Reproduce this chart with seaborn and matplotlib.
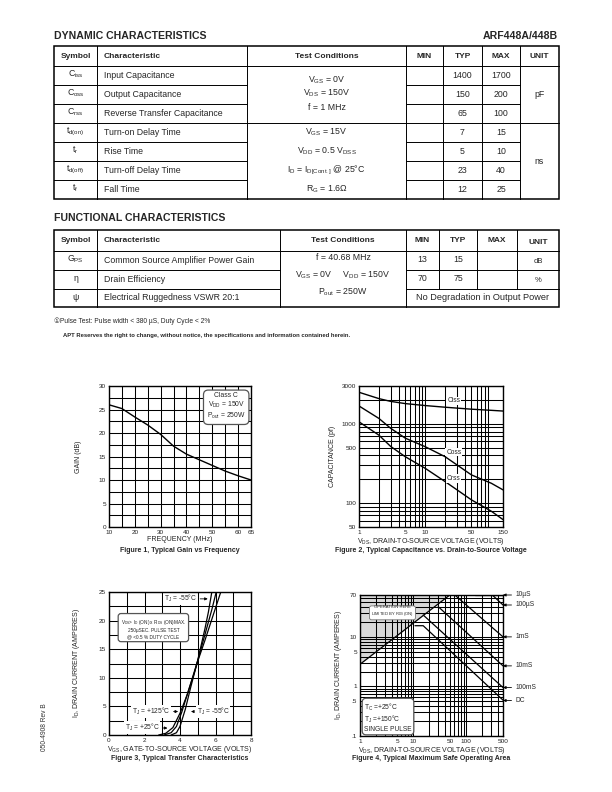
import matplotlib
matplotlib.use("Agg")
import matplotlib.pyplot as plt
import numpy as np
import seaborn as sns

# TABLE DATA
dyn_symbols = [r'C$_{\rm iss}$', r'C$_{\rm oss}$', r'C$_{\rm rss}$', r't$_{\rm d(on)}$',
               r't$_{\rm r}$', r't$_{\rm d(off)}$', r't$_{\rm f}$']
dyn_names = ['Input Capacitance', 'Output Capacitance', 'Reverse Transfer Capacitance',
             'Turn-on Delay Time', 'Rise Time', 'Turn-off Delay Time', 'Fall Time']
dyn_typ = ['1400', '150', '65', '7', '5', '23', '12']
dyn_max = ['1700', '200', '100', '15', '10', '40', '25']
dyn_cond_cap = [r'V$_{\rm GS}$ = 0V', r'V$_{\rm DS}$ = 150V', 'f = 1 MHz']
dyn_cond_sw = [r'V$_{\rm GS}$ = 15V', r'V$_{\rm DD}$ = 0.5 V$_{\rm DSS}$',
               r'I$_{\rm D}$ = I$_{\rm D[Cont.]}$ @ 25°C', r'R$_{\rm G}$ = 1.6Ω']
dyn_units = ['pF', 'ns']

fun_symbols = [r'G$_{\rm PS}$', 'η', 'ψ']
fun_names = ['Common Source Amplifier Power Gain', 'Drain Efficiency', 'Electrical Ruggedness VSWR 20:1']
fun_min = ['13', '70']
fun_typ = ['15', '75']
fun_units = ['dB', '%']
fun_cond = ['f = 40.68 MHz', r'V$_{\rm GS}$ = 0V     V$_{\rm DD}$ = 150V', r'P$_{\rm out}$ = 250W']
fun_last = 'No Degradation in Output Power'
headers = ['Symbol', 'Characteristic', 'Test Conditions', 'MIN', 'TYP', 'MAX', 'UNIT']

# FIGURE 1 - gain vs frequency
freq = [10, 15, 20, 25, 30, 35, 40, 45, 50, 55, 60, 65]
gain = [26.0, 25.2, 23.4, 21.7, 19.7, 17.2, 15.5, 14.3, 13.1, 11.9, 10.9, 10.0]

# FIGURE 2 - capacitance vs VDS
cap_v = [1, 2, 3, 5, 10, 20, 50, 100, 150]
ciss = [2500, 2080, 1920, 1800, 1700, 1620, 1530, 1480, 1450]
coss = [1680, 1170, 880, 660, 515, 385, 227, 178, 147]
crss = [1060, 720, 520, 385, 275, 187, 110, 79, 62]

# FIGURE 3 - transfer characteristics
vgs_125 = [2.8, 3.2, 3.6, 4.0, 4.4, 4.8, 5.0, 5.4, 5.8, 6.35]
id_125 = [0, 0.3, 1.3, 3.8, 7.0, 10.8, 12.9, 16.5, 20.3, 25.5]
vgs_25 = [3.1, 3.5, 3.8, 4.1, 4.5, 5.0, 5.4, 5.8, 6.08]
id_25 = [0, 0.4, 1.5, 4.0, 8.0, 13.0, 17.5, 22.0, 25.5]
vgs_m55 = [3.5, 3.8, 4.0, 4.3, 4.6, 5.0, 5.4, 5.6, 5.82]
id_m55 = [0, 0.4, 1.5, 4.5, 8.3, 13.1, 18.5, 21.5, 25.5]

# FIGURE 4 - safe operating area
rds_v = [1, 49.5]
rds_i = [2.8, 70]
soa_names = ['10µS', '100µS', '1mS', '10mS', '100mS', 'DC']
soa_v = [[150, 500], [314, 500], [61.6, 500], [29.9, 500], [15.6, 500], [10.9, 15.6, 500]]
soa_i = [[70, 70], [70, 44], [70, 10], [40.8, 2.6], [27.6, 0.95], [16.8, 16.8, 0.53]]
soa_end = [70, 44, 10, 2.6, 0.95, 0.52]

W, H = 612, 792
sns.set_style("white")
plt.rcParams['font.family'] = ['Liberation Sans', 'DejaVu Sans']
plt.rcParams['mathtext.fontset'] = 'custom'
plt.rcParams['mathtext.rm'] = 'Liberation Sans'
plt.rcParams['mathtext.it'] = 'Liberation Sans'
plt.rcParams['mathtext.bf'] = 'Liberation Sans:bold'

fig = plt.figure(figsize=(6.12, 7.92), dpi=100)
page = fig.add_axes([0, 0, 1, 1])
page.set_xlim(0, W)
page.set_ylim(H, 0)
page.axis('off')


def hline(y, x0, x1, lw=0.7):
    page.plot([x0, x1], [y, y], color='black', lw=lw, solid_capstyle='projecting')


def vline(x, y0, y1, lw=0.7):
    page.plot([x, x], [y0, y1], color='black', lw=lw, solid_capstyle='projecting')


def txt(x, y, s, size=6.3, ha='center', bold=False, **kw):
    page.text(x, y, s, fontsize=size, ha=ha, va='center',
              fontweight='bold' if bold else 'normal', **kw)


# DYNAMIC TABLE
txt(54, 36, 'DYNAMIC CHARACTERISTICS', size=7.6, ha='left', bold=True)
txt(558, 36, 'ARF448A/448B', size=7.6, ha='right', bold=True)
cols = [54, 97, 247, 406, 443, 482, 520, 559]
rows = [46, 66, 85, 104, 123, 142, 161, 180, 199]
for x in cols[1:-1]:
    vline(x, rows[0], rows[-1])
hline(rows[1], cols[0], cols[-1])
hline(rows[4], cols[0], cols[-1])
for y in rows[2:4] + rows[5:8]:
    hline(y, cols[0], cols[2])
    hline(y, cols[3], cols[6])
page.add_patch(plt.Rectangle((cols[0], rows[0]), cols[-1] - cols[0], rows[-1] - rows[0],
                             fill=False, lw=1.1, ec='black'))
hy = (rows[0] + rows[1]) / 2
for i, h in enumerate(headers):
    if i == 1:
        txt(cols[1] + 7, hy, h, ha='left', bold=True, size=6.0)
    else:
        txt((cols[i] + cols[i + 1]) / 2, hy, h, bold=True, size=6.0)
for i in range(len(dyn_names)):
    yc = (rows[i + 1] + rows[i + 2]) / 2
    txt((cols[0] + cols[1]) / 2, yc - 1, dyn_symbols[i])
    txt(cols[1] + 7, yc, dyn_names[i], ha='left')
    txt((cols[4] + cols[5]) / 2, yc, dyn_typ[i])
    txt((cols[5] + cols[6]) / 2, yc, dyn_max[i])
cx = (cols[2] + cols[3]) / 2
for j, s in enumerate(dyn_cond_cap):
    txt(cx, 80 + 13.5 * j, s)
for j, s in enumerate(dyn_cond_sw):
    txt(cx, (rows[4 + j] + rows[5 + j]) / 2, s)
ux = (cols[6] + cols[7]) / 2
txt(ux, (rows[1] + rows[4]) / 2, dyn_units[0])
txt(ux, (rows[4] + rows[8]) / 2, dyn_units[1])

# FUNCTIONAL TABLE
txt(54, 218, 'FUNCTIONAL CHARACTERISTICS', size=7.6, ha='left', bold=True)
cols = [54, 97, 280, 406, 439, 477, 517, 559]
rows = [230, 251, 270, 289, 307]
for x in cols[1:4]:
    vline(x, rows[0], rows[-1])
for x in cols[4:7]:
    vline(x, rows[0], rows[3])
hline(rows[1], cols[0], cols[-1])
for y in rows[2:4]:
    hline(y, cols[0], cols[2])
    hline(y, cols[3], cols[-1])
page.add_patch(plt.Rectangle((cols[0], rows[0]), cols[-1] - cols[0], rows[-1] - rows[0],
                             fill=False, lw=1.1, ec='black'))
hy = (rows[0] + rows[1]) / 2
for i, h in enumerate(headers):
    if i == 1:
        txt(cols[1] + 7, hy, h, ha='left', bold=True, size=6.0)
    else:
        txt((cols[i] + cols[i + 1]) / 2, hy + (1.5 if h == 'UNIT' else 0), h, bold=True, size=6.0)
for i in range(len(fun_names)):
    yc = (rows[i + 1] + rows[i + 2]) / 2
    txt((cols[0] + cols[1]) / 2, yc - 1, fun_symbols[i])
    txt(cols[1] + 7, yc, fun_names[i], ha='left')
for i in range(len(fun_min)):
    yc = (rows[i + 1] + rows[i + 2]) / 2
    txt((cols[3] + cols[4]) / 2, yc - 1, fun_min[i])
    txt((cols[4] + cols[5]) / 2, yc - 1, fun_typ[i])
    txt((cols[6] + cols[7]) / 2, yc + 1, fun_units[i], size=5.5)
txt((cols[3] + cols[7]) / 2, (rows[3] + rows[4]) / 2, fun_last, size=6.6)
cx = (cols[2] + cols[3]) / 2
for j, s in enumerate(fun_cond):
    txt(cx, 258 + 17 * j, s)

txt(54, 321, '①Pulse Test: Pulse width < 380 µS, Duty Cycle < 2%', size=4.8, ha='left')
txt(63, 336, 'APT Reserves the right to change, without notice, the specifications and information contained herein.',
    size=4.2, ha='left', bold=True)
page.text(45, 727, '050-4908 Rev B', rotation=90, fontsize=4.8, ha='center', va='center', color='#333333')


def chart_axes(l, t, r, b):
    ax = fig.add_axes([l / W, 1 - b / H, (r - l) / W, (b - t) / H])
    for s in ax.spines.values():
        s.set_linewidth(1.0)
        s.set_color('black')
        s.set_zorder(5)
    ax.tick_params(which='both', length=0, labelsize=4.6, pad=2.0, colors='#222222')
    return ax


def grid(ax):
    ax.grid(which='both', color='black', lw=0.75)
    ax.set_axisbelow(True)


lab = dict(fontsize=5.0, color='#222222')

# FIGURE 1
ax1 = chart_axes(109, 386, 251, 527)
sns.lineplot(x=freq, y=gain, ax=ax1, color='black', lw=1.0)
ax1.set_xlim(10, 65)
ax1.set_ylim(0, 30)
ax1.set_xticks([10, 20, 30, 40, 50, 60, 65])
ax1.set_xticks(np.arange(10, 66, 5), minor=True)
ax1.set_yticks(np.arange(0, 31, 5))
ax1.set_yticks(np.arange(0, 30.1, 2.5), minor=True)
grid(ax1)
ax1.set_xlabel('FREQUENCY (MHz)', labelpad=0.8, **lab)
ax1.set_ylabel('GAIN (dB)', labelpad=12, **lab)
ax1.text(55.4, 25.6, 'Class C\n' + r'V$_{\rm DD}$ = 150V' + '\n' + r'P$_{\rm out}$ = 250W',
         ha='center', va='center', fontsize=4.9, linespacing=1.1,
         bbox=dict(boxstyle='round,pad=0.5,rounding_size=0.7', fc='white', ec='#555555', lw=0.9))
txt(180, 551, 'Figure 1, Typical Gain vs Frequency', size=5.0, bold=True)

# FIGURE 2
ax2 = chart_axes(359, 386, 503, 527)
for vals in [ciss, coss, crss]:
    sns.lineplot(x=cap_v, y=vals, ax=ax2, color='black', lw=1.0)
ax2.set_xscale('log')
ax2.set_yscale('log')
ax2.set_xlim(1, 150)
ax2.set_ylim(50, 3000)
ax2.set_xticks([1, 5, 10, 50, 150])
ax2.set_xticklabels(['1', '5', '10', '50', '150'])
ax2.set_yticks([50, 100, 500, 1000, 3000])
ax2.set_yticklabels(['50', '100', '500', '1000', '3000'])
grid(ax2)
ax2.set_xlabel(r'V$_{\rm DS}$, DRAIN-TO-SOURCE VOLTAGE (VOLTS)', labelpad=0.8, **lab)
ax2.set_ylabel('CAPACITANCE (pf)', labelpad=4, **lab)
for name, yy in [('Ciss', 1950), ('Coss', 440), ('Crss', 205)]:
    ax2.text(27, yy, name, fontsize=4.8, ha='center', va='center',
             bbox=dict(fc='white', ec='none', pad=0.6))
txt(431, 551, 'Figure 2, Typical Capacitance vs. Drain-to-Source Voltage', size=5.0, bold=True)

# FIGURE 3
ax3 = chart_axes(109, 592, 251, 735)
for vv, ii in [(vgs_125, id_125), (vgs_25, id_25), (vgs_m55, id_m55)]:
    sns.lineplot(x=vv, y=ii, ax=ax3, color='black', lw=0.9)
ax3.set_xlim(0, 8)
ax3.set_ylim(0, 25)
ax3.set_xticks([0, 2, 4, 6, 8])
ax3.set_xticks(np.arange(0, 8.1, 1), minor=True)
ax3.set_yticks(np.arange(0, 26, 5))
ax3.set_yticks(np.arange(0, 25.1, 2.5), minor=True)
grid(ax3)
ax3.set_xlabel(r'V$_{\rm GS}$, GATE-TO-SOURCE VOLTAGE (VOLTS)', labelpad=0.8, **lab)
ax3.set_ylabel(r'I$_{\rm D}$, DRAIN CURRENT (AMPERES)', labelpad=12, **lab)
ax3.text(2.5, 18.6, r'V$_{\rm DS}$> I$_{\rm D}$ (ON) x R$_{\rm DS}$ (ON)MAX.' + '\n250µSEC. PULSE TEST\n@ <0.5 % DUTY CYCLE',
         ha='center', va='center', fontsize=3.4, linespacing=1.3,
         bbox=dict(boxstyle='round,pad=0.5,rounding_size=0.6', fc='white', ec='#555555', lw=0.9))
arw = dict(arrowstyle='-|>', color='black', lw=0.6, mutation_scale=4)
bb = dict(fc='white', ec='none', pad=0.4)
ax3.annotate(r'T$_{\rm J}$ = -55°C', xy=(5.72, 23.8), xytext=(4.95, 23.8), fontsize=4.8,
             ha='right', va='center', arrowprops=arw, bbox=bb)
ax3.annotate(r'T$_{\rm J}$ = +125°C', xy=(4.05, 4.1), xytext=(3.45, 4.1), fontsize=4.8,
             ha='right', va='center', arrowprops=arw, bbox=bb)
ax3.annotate(r'T$_{\rm J}$ = -55°C', xy=(4.62, 4.1), xytext=(4.95, 4.1), fontsize=4.8,
             ha='left', va='center', arrowprops=arw, bbox=bb)
ax3.annotate(r'T$_{\rm J}$ = +25°C', xy=(3.45, 1.2), xytext=(2.85, 1.3), fontsize=4.8,
             ha='right', va='center', arrowprops=arw, bbox=bb)
txt(180, 759, 'Figure 3, Typical Transfer Characteristics', size=5.0, bold=True)

# FIGURE 4
ax4 = chart_axes(360, 595, 503, 736)
ax4.set_xscale('log')
ax4.set_yscale('log')
ax4.fill_between([rds_v[0], rds_v[1]], rds_i, [70, 70], color='#d9d9d9', zorder=0.5, lw=0)
sns.lineplot(x=rds_v, y=rds_i, ax=ax4, color='black', lw=0.9)
for vv, ii in zip(soa_v, soa_i):
    sns.lineplot(x=vv, y=ii, ax=ax4, color='black', lw=0.9)
ax4.set_xlim(1, 500)
ax4.set_ylim(0.1, 70)
ax4.set_xticks([1, 5, 10, 50, 100, 500])
ax4.set_xticklabels(['1', '5', '10', '50', '100', '500'])
ax4.set_yticks([0.1, 0.5, 1, 5, 10, 70])
ax4.set_yticklabels(['.1', '.5', '1', '5', '10', '70'])
grid(ax4)
ax4.set_xlabel(r'V$_{\rm DS}$, DRAIN-TO-SOURCE VOLTAGE (VOLTS)', labelpad=0.8, **lab)
ax4.set_ylabel(r'I$_{\rm D}$, DRAIN CURRENT (AMPERES)', labelpad=4, **lab)
ax4.text(4.1, 32, 'OPERATION HERE\nLIMITED BY R$_{\\rm DS}$ (ON)', ha='center', va='center',
         fontsize=3.0, linespacing=1.2,
         bbox=dict(boxstyle='round,pad=0.35,rounding_size=0.5', fc='white', ec='#777777', lw=0.6))
ax4.text(1.2, 0.24, r'T$_{\rm C}$ =+25°C' + '\n' + r'T$_{\rm J}$ =+150°C' + '\nSINGLE PULSE',
         ha='left', va='center', fontsize=4.8, linespacing=1.15,
         bbox=dict(boxstyle='round,pad=0.3,rounding_size=0.6', fc='white', ec='#555555', lw=0.9))
for name, yy in zip(soa_names, soa_end):
    ax4.annotate(name, xy=(1.0, yy), xycoords=('axes fraction', 'data'),
                 xytext=(9, 0), textcoords='offset points', fontsize=4.8, ha='left', va='center',
                 arrowprops=dict(arrowstyle='-|>', color='black', lw=0.6, mutation_scale=4,
                                 shrinkA=0.5, shrinkB=0), annotation_clip=False)
txt(431, 759, 'Figure 4, Typical Maximum Safe Operating Area', size=5.0, bold=True)

plt.savefig('out.png', dpi=100)
